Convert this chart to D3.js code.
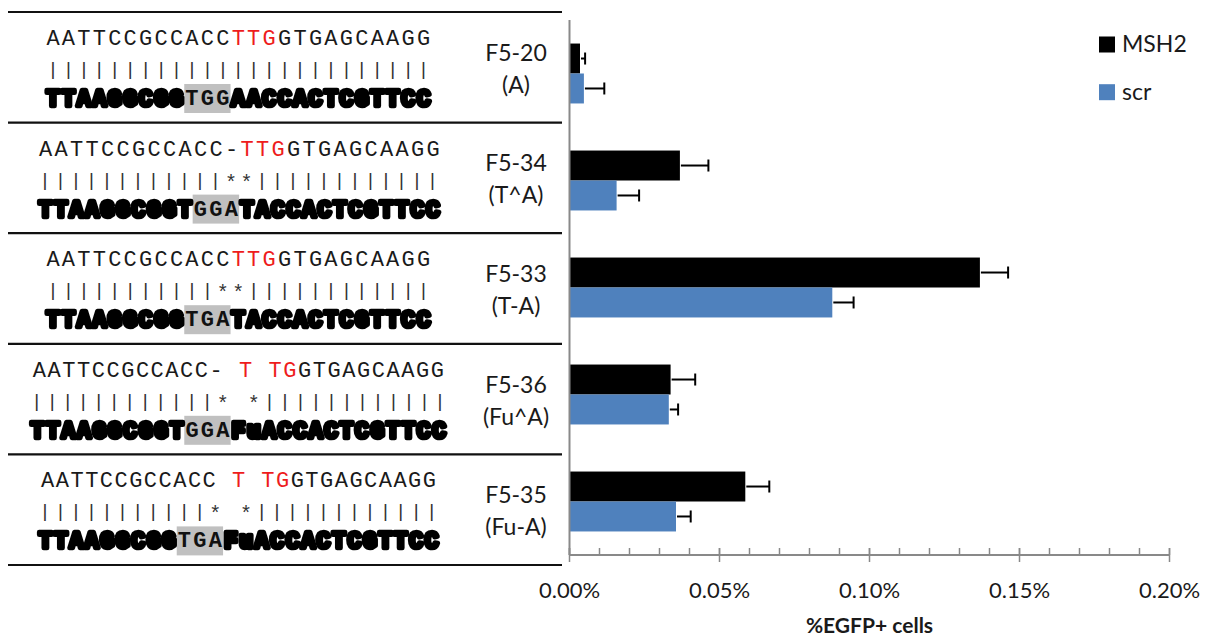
<!DOCTYPE html>
<html>
<head>
<meta charset="utf-8">
<script src="https://cdn.jsdelivr.net/npm/d3@7"></script>
<style>
  html, body { margin: 0; padding: 0; background: #fff; }
  svg { display: block; }
</style>
</head>
<body>
<svg id="chart" width="1207" height="638"></svg>
<script>
// ---- data ----
const categories = ["F5-20", "F5-34", "F5-33", "F5-36", "F5-35"];
const lesions = ["(A)", "(T^A)", "(T-A)", "(Fu^A)", "(Fu-A)"];
const series = ["MSH2", "scr"];
const msh2Values = [0.0035, 0.0368, 0.1368, 0.0337, 0.0586];
const msh2Errors = [0.0017, 0.0095, 0.0094, 0.0082, 0.0080];
const scrValues = [0.0048, 0.0157, 0.0876, 0.0331, 0.0355];
const scrErrors = [0.0068, 0.0075, 0.0071, 0.0031, 0.0049];
const xTicks = [0, 0.05, 0.10, 0.15, 0.20];
const xMinorTicks = d3.range(0, 0.2001, 0.01);
const xTitle = "%EGFP+ cells";

// sequence panel: top strand, match line, bottom strand (left / lesion site / right)
const topStrands = [
  "AATTCCGCCACCTTGGTGAGCAAGG",
  "AATTCCGCCACC-TTGGTGAGCAAGG",
  "AATTCCGCCACCTTGGTGAGCAAGG",
  "AATTCCGCCACC- T TGGTGAGCAAGG",
  "AATTCCGCCACC T TGGTGAGCAAGG"
];
const redSpans = [[12, 14], [13, 15], [12, 14], [14, 17], [13, 16]];
const matchLines = [
  "|||||||||||||||||||||||||",
  "||||||||||||**||||||||||||",
  "|||||||||||**||||||||||||",
  "||||||||||||* *||||||||||||",
  "|||||||||||* *||||||||||||"
];
const bottomLeft = ["TTAAGGCGG", "TTAAGGCGGT", "TTAAGGCGG", "TTAAGGCGGT", "TTAAGGCGG"];
const bottomSite = ["TGG", "GGA", "TGA", "GGA", "TGA"];
const bottomRight = ["AACCACTCGTTCC", "TACCACTCGTTCC", "TACCACTCGTTCC", "FuACCACTCGTTCC", "FuACCACTCGTTCC"];

// ---- layout ----
const colors = { MSH2: "#000000", scr: "#4f81bd" };
const axisGrey = "#898989";
const sans = "Lato, 'Open Sans', sans-serif";
const mono = "'Liberation Mono', 'DejaVu Sans Mono', monospace";
// column grid (first column centre, column pitch) for each text line of the panel
const seqGrid = [
  { top: [53, 15.44], mid: [53, 15.44], bot: [53, 15.44] },
  { top: [45.5, 15.5], mid: [45, 15.5], bot: [45.4, 15.5] },
  { top: [53, 15.44], mid: [53, 15.44], bot: [53, 15.44] },
  { top: [39.3, 14.74], mid: [36.7, 15.51], bot: [37.5, 15.45] },
  { top: [47.7, 14.68], mid: [45, 15.47], bot: [45.4, 15.45] }
];

const svg = d3.select("#chart");

const x = d3.scaleLinear().domain([0, 0.2]).range([569.5, 1169.5]);
const y = d3.scaleBand().domain(categories).range([20, 555]).paddingInner(0.44).paddingOuter(0.22);
const ySeries = d3.scaleBand().domain(series).range([0, y.bandwidth()]);
const rows = d3.scaleBand().domain(categories).range([12, 565]);

// ---- left sequence table ----
const defs = svg.append("defs");
defs.append("filter").attr("id", "smear").attr("x", "-5%").attr("y", "-30%").attr("width", "110%").attr("height", "160%")
  .append("feGaussianBlur").attr("stdDeviation", 0.75);

const rowLines = categories.map(c => rows(c)).concat([rows.range()[1]]);
svg.append("g").selectAll("line").data(rowLines).join("line")
  .attr("x1", 8).attr("x2", 562)
  .attr("y1", d => d).attr("y2", d => d)
  .attr("stroke", "#111").attr("stroke-width", 2.2);

categories.forEach((cat, i) => {
  const top = rows(cat);
  const g = svg.append("g");
  const grid = seqGrid[i];
  const colX = (spec, k) => spec[0] + spec[1] * k;

  // top strand
  const topChars = topStrands[i].split("").map((ch, k) => ({ ch, k }));
  g.append("g").selectAll("text").data(topChars.filter(d => d.ch !== " ")).join("text")
    .attr("x", d => colX(grid.top, d.k)).attr("y", top + 33)
    .attr("text-anchor", "middle")
    .attr("font-family", mono).attr("font-size", 22)
    .attr("fill", d => (d.k >= redSpans[i][0] && d.k <= redSpans[i][1]) ? "#ee1c1c" : "#1a1a1a")
    .text(d => d.ch);

  // match line
  const midChars = matchLines[i].split("").map((ch, k) => ({ ch, k })).filter(d => d.ch !== " ");
  g.append("g").selectAll("text").data(midChars).join("text")
    .attr("x", d => colX(grid.mid, d.k)).attr("y", d => d.ch === "*" ? top + 66 : top + 63)
    .attr("text-anchor", "middle")
    .attr("font-family", mono).attr("font-size", d => d.ch === "*" ? 20 : 19)
    .attr("fill", "#333")
    .text(d => d.ch);

  // bottom strand
  const nL = bottomLeft[i].length, nS = bottomSite[i].length;
  const boxX0 = colX(grid.bot, nL) - grid.bot[1] / 2;
  g.append("rect")
    .attr("x", boxX0).attr("y", top + 72)
    .attr("width", grid.bot[1] * nS).attr("height", 29)
    .attr("fill", "#c0c0c0");

  const smeared = bottomLeft[i].split("").map((ch, k) => ({ ch, k }))
    .concat(bottomRight[i].split("").map((ch, k) => ({ ch, k: nL + nS + k })));
  g.append("g").attr("filter", "url(#smear)").selectAll("text").data(smeared).join("text")
    .attr("x", d => colX(grid.bot, d.k)).attr("y", top + 94)
    .attr("text-anchor", "middle")
    .attr("font-family", mono).attr("font-weight", "bold").attr("font-size", 23)
    .attr("fill", "#000").attr("stroke", "#000").attr("stroke-width", 4.6)
    .attr("stroke-linejoin", "round")
    .text(d => d.ch);

  g.append("g").selectAll("text").data(bottomSite[i].split("").map((ch, k) => ({ ch, k: nL + k }))).join("text")
    .attr("x", d => colX(grid.bot, d.k)).attr("y", top + 93)
    .attr("text-anchor", "middle")
    .attr("font-family", mono).attr("font-size", 22).attr("font-weight", "bold")
    .attr("fill", "#111")
    .text(d => d.ch);
});

// ---- category labels ----
const labels = svg.append("g").attr("font-family", sans).attr("font-size", 23).attr("fill", "#1a1a1a")
  .attr("text-anchor", "middle");
categories.forEach((cat, i) => {
  const cy = rows(cat) + rows.bandwidth() / 2;
  labels.append("text").attr("x", 516).attr("y", cy - 6.5).text(cat);
  labels.append("text").attr("x", 516).attr("y", cy + 25.5).text(lesions[i]);
});

// ---- bars ----
const barData = [];
categories.forEach((cat, i) => {
  barData.push({ cat, s: "MSH2", v: msh2Values[i], e: msh2Errors[i] });
  barData.push({ cat, s: "scr", v: scrValues[i], e: scrErrors[i] });
});
const bars = svg.append("g");
bars.selectAll("rect").data(barData).join("rect")
  .attr("x", x(0))
  .attr("y", d => y(d.cat) + ySeries(d.s))
  .attr("width", d => x(d.v) - x(0))
  .attr("height", ySeries.bandwidth())
  .attr("fill", d => colors[d.s]);

// error bars
const errs = svg.append("g").attr("stroke", "#000").attr("stroke-width", 2);
errs.selectAll("line.stem").data(barData).join("line").attr("class", "stem")
  .attr("x1", d => x(d.v) + 1).attr("x2", d => x(d.v + d.e))
  .attr("y1", d => y(d.cat) + ySeries(d.s) + ySeries.bandwidth() / 2)
  .attr("y2", d => y(d.cat) + ySeries(d.s) + ySeries.bandwidth() / 2);
errs.selectAll("line.cap").data(barData).join("line").attr("class", "cap")
  .attr("x1", d => x(d.v + d.e)).attr("x2", d => x(d.v + d.e))
  .attr("y1", d => y(d.cat) + ySeries(d.s) + ySeries.bandwidth() / 2 - 6)
  .attr("y2", d => y(d.cat) + ySeries(d.s) + ySeries.bandwidth() / 2 + 6);

// ---- axes ----
const axisY = 555;
const ax = svg.append("g").attr("stroke", axisGrey);
ax.append("line").attr("x1", x(0)).attr("x2", x(0)).attr("y1", 20).attr("y2", axisY).attr("stroke-width", 2);
ax.append("line").attr("x1", x(0)).attr("x2", x(0.2)).attr("y1", axisY).attr("y2", axisY).attr("stroke-width", 2);
ax.selectAll("line.minor").data(xMinorTicks).join("line").attr("class", "minor")
  .attr("x1", d => x(d)).attr("x2", d => x(d))
  .attr("y1", axisY - 7).attr("y2", axisY).attr("stroke-width", 1.5);
ax.selectAll("line.major").data(xTicks).join("line").attr("class", "major")
  .attr("x1", d => x(d)).attr("x2", d => x(d))
  .attr("y1", axisY - 7).attr("y2", axisY + 7).attr("stroke-width", 1.5);

svg.append("g").attr("font-family", sans).attr("font-size", 22).attr("fill", "#1a1a1a")
  .attr("text-anchor", "middle")
  .selectAll("text").data(xTicks).join("text")
  .attr("x", d => x(d)).attr("y", 598)
  .text(d => d3.format(".2f")(d) + "%");

svg.append("text").attr("x", (x(0) + x(0.2)) / 2).attr("y", 633)
  .attr("text-anchor", "middle").attr("font-family", sans).attr("font-weight", "bold")
  .attr("font-size", 21).attr("fill", "#1a1a1a").text(xTitle);

// ---- legend ----
const legend = svg.append("g").attr("font-family", sans).attr("font-size", 23).attr("fill", "#1a1a1a");
series.forEach((s, i) => {
  legend.append("rect").attr("x", 1099).attr("y", 36.5 + i * 47.7).attr("width", 16).attr("height", 16)
    .attr("fill", colors[s]);
  legend.append("text").attr("x", 1122).attr("y", 52 + i * 47.7).text(s);
});
</script>
</body>
</html>
